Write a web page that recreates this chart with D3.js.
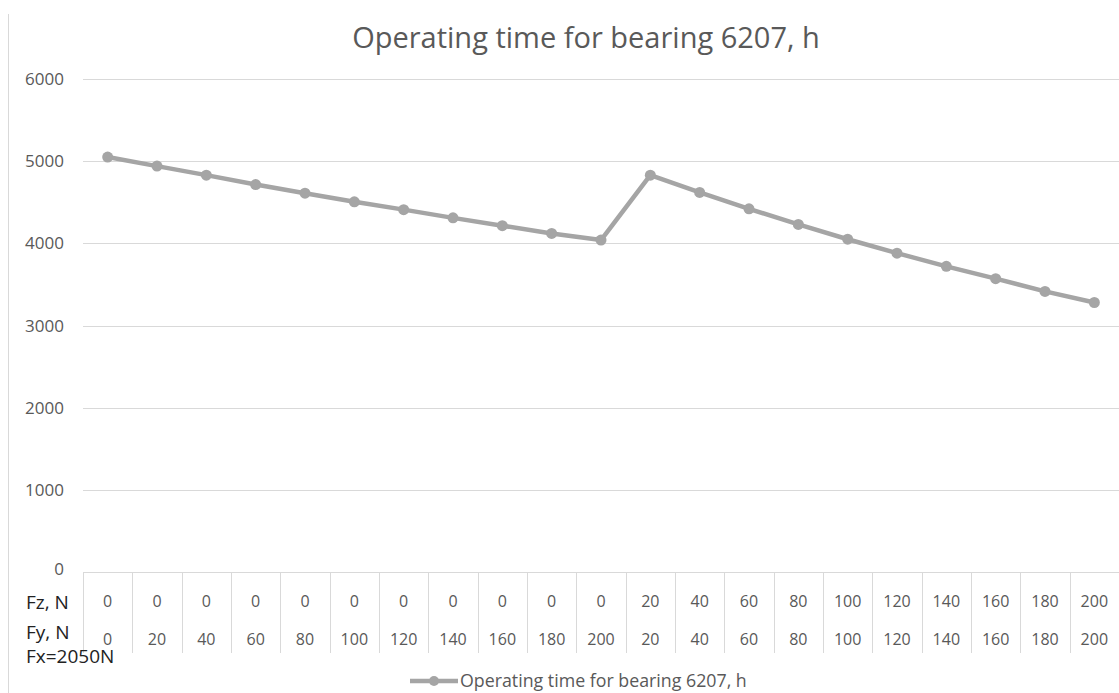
<!DOCTYPE html>
<meta charset="utf-8">
<head><title>Operating time for bearing 6207</title>
<style>
body { margin: 0; background: #fff; }
svg { font-family: "Open Sans", "Liberation Sans", sans-serif; }
.grid line { stroke: #d9d9d9; stroke-width: 1px; }
.ylab text { fill: #595959; font-size: 17px; }
.table text { fill: #595959; font-size: 16px; }
</style>
</head>
<body>
<svg width="1119" height="693"></svg>
<script src="https://d3js.org/d3.v7.min.js"></script>
<script>

// data
var fzLabels = ["0","0","0","0","0","0","0","0","0","0","0","20","40","60","80","100","120","140","160","180","200"];
var fyLabels = ["0","20","40","60","80","100","120","140","160","180","200","20","40","60","80","100","120","140","160","180","200"];
var hours = [5050, 4940, 4830, 4715, 4610, 4505, 4410, 4310, 4215, 4120, 4040,
             4830, 4620, 4420, 4230, 4050, 3880, 3720, 3570, 3415, 3280];
var yTicks = [0, 1000, 2000, 3000, 4000, 5000, 6000];
var seriesName = "Operating time for bearing 6207, h";

var svg = d3.select("svg"),
    width = +svg.attr("width"),
    height = +svg.attr("height");

// plot box ("top" is taken by window.top, so use other names)
var plotL = 83, plotR = 1119, plotT = 79, plotB = 572;
var lineColour = "#a5a5a5";

// chart border on the left
svg.append("line")
  .attr("x1", 8.5).attr("x2", 8.5)
  .attr("y1", 14).attr("y2", height)
  .attr("stroke", "#d9d9d9");

var idx = d3.range(hours.length);
var x = d3.scaleBand().domain(idx).range([plotL, plotR]);
var y = d3.scaleLinear().domain([0, 6000]).range([plotB, plotT]);

// title
svg.append("text")
  .attr("x", 586).attr("y", 48)
  .attr("text-anchor", "middle")
  .style("font-size", "29px")
  .style("fill", "#595959")
  .text(seriesName);

// gridlines (not the zero one, that is the table top)
svg.append("g").attr("class", "grid")
  .selectAll("line")
  .data(yTicks.filter(function(d) { return d > 0; }))
  .enter().append("line")
    .attr("x1", plotL).attr("x2", plotR)
    .attr("y1", function(d) { return Math.round(y(d)) + 0.5; })
    .attr("y2", function(d) { return Math.round(y(d)) + 0.5; });

// y labels
svg.append("g").attr("class", "ylab")
  .selectAll("text")
  .data(yTicks)
  .enter().append("text")
    .attr("x", 64)
    .attr("y", function(d) { return y(d) + (d === 0 ? 3 : 6); })
    .attr("text-anchor", "end")
    .text(function(d) { return d; });

// data table under the axis
var table = svg.append("g").attr("class", "table");
table.append("line")
  .attr("x1", plotL).attr("x2", plotR)
  .attr("y1", plotB + 0.5).attr("y2", plotB + 0.5)
  .attr("stroke", "#d9d9d9");
table.selectAll("line.sep")
  .data(d3.range(hours.length + 1))
  .enter().append("line")
    .attr("class", "sep")
    .attr("x1", function(d) { return Math.round(plotL + d * x.bandwidth()) + 0.5; })
    .attr("x2", function(d) { return Math.round(plotL + d * x.bandwidth()) + 0.5; })
    .attr("y1", plotB).attr("y2", 653)
    .attr("stroke", "#d9d9d9");
table.selectAll("text.fz")
  .data(fzLabels)
  .enter().append("text")
    .attr("class", "fz")
    .attr("x", function(d, i) { return x(i) + x.bandwidth() / 2; })
    .attr("y", 607)
    .attr("text-anchor", "middle")
    .text(function(d) { return d; });
table.selectAll("text.fy")
  .data(fyLabels)
  .enter().append("text")
    .attr("class", "fy")
    .attr("x", function(d, i) { return x(i) + x.bandwidth() / 2; })
    .attr("y", 645)
    .attr("text-anchor", "middle")
    .text(function(d) { return d; });

// row headers
var heads = [["Fz, N", 609], ["Fy, N", 639], ["Fx=2050N", 663]];
svg.selectAll("text.head")
  .data(heads)
  .enter().append("text")
    .attr("class", "head")
    .attr("x", 26)
    .attr("y", function(d) { return d[1]; })
    .style("font-size", "19px")
    .style("fill", "#222")
    .text(function(d) { return d[0]; });

// the series
var line = d3.line()
  .x(function(d, i) { return x(i) + x.bandwidth() / 2; })
  .y(function(d) { return y(d); });

svg.append("path")
  .datum(hours)
  .attr("d", line)
  .attr("fill", "none")
  .attr("stroke", lineColour)
  .attr("stroke-width", 4.5)
  .attr("stroke-linejoin", "round");

svg.append("g")
  .selectAll("circle")
  .data(hours)
  .enter().append("circle")
    .attr("cx", function(d, i) { return x(i) + x.bandwidth() / 2; })
    .attr("cy", function(d) { return y(d); })
    .attr("r", 5.5)
    .attr("fill", lineColour);

// legend
var lg = svg.append("g").attr("transform", "translate(410,681)");
lg.append("line")
  .attr("x1", 0).attr("x2", 48)
  .attr("y1", 0).attr("y2", 0)
  .attr("stroke", lineColour).attr("stroke-width", 4.5);
lg.append("circle").attr("cx", 24).attr("cy", 0).attr("r", 5).attr("fill", lineColour);
lg.append("text")
  .attr("x", 50).attr("y", 6)
  .style("font-size", "17.8px")
  .style("fill", "#595959")
  .text(seriesName);

</script>
</body>
